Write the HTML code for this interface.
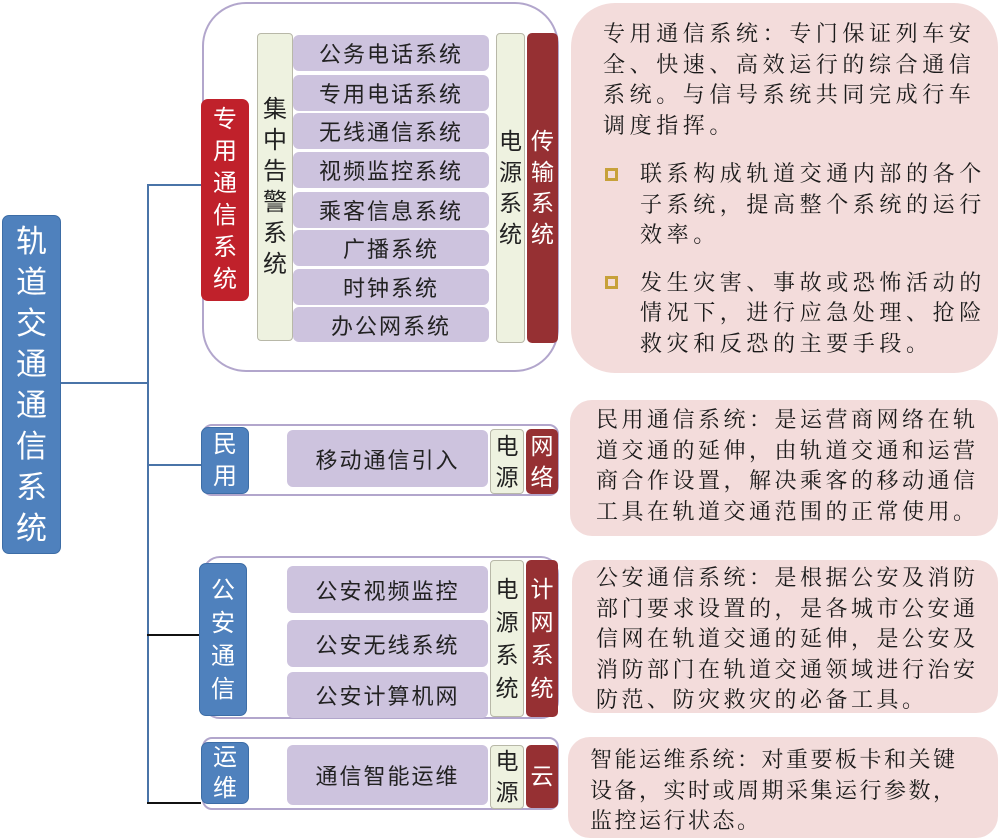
<!DOCTYPE html>
<html><head><meta charset="utf-8"><style>
body{margin:0;width:1000px;height:840px;background:#fff;position:relative;overflow:hidden;font-family:"Liberation Sans","Noto Sans CJK SC",sans-serif}
.a{position:absolute;box-sizing:border-box}
.v{display:flex;flex-direction:column;align-items:center;justify-content:center;text-align:center}
.blue{background:#4f81bd;color:#fff;border-radius:7px;border:1px solid #3d6da6}
.red{background:#c0212b;color:#fff;border-radius:7px}
.dred{background:#963033;color:#fff;border-radius:5px}
.grn{background:#eef2e0;border:1px solid #b8b8a8;border-radius:4px;color:#222}
.itm{background:#cdc3de;border-radius:6px;color:#222;font-size:22px;letter-spacing:2px;display:flex;align-items:center;justify-content:center}
.out{border:2px solid #b2a6cc;background:#fff}
.pk{background:#f3dcdb;border-radius:22px;font-family:"Liberation Serif","Noto Serif CJK SC",serif;font-size:22px;letter-spacing:4.6px;line-height:30.5px;color:#1a1a1a;white-space:nowrap}
.ln{position:absolute;background:#4a74a8}
.bk{position:absolute;background:#111}
.bul{position:absolute;width:13px;height:13px;border:3px solid #c7a13a;box-sizing:border-box}
</style></head><body>
<div class="ln" style="left:60px;top:382px;width:89px;height:2px"></div>
<div class="ln" style="left:147px;top:184px;width:2px;height:620px"></div>
<div class="ln" style="left:147px;top:184px;width:54px;height:2px"></div>
<div class="ln" style="left:147px;top:464px;width:54px;height:2px"></div>
<div class="bk" style="left:147px;top:634px;width:54px;height:2px"></div>
<div class="bk" style="left:147px;top:802px;width:54px;height:2px"></div>

<div class="a blue v" style="left:2px;top:215px;width:59px;height:339px;font-size:31px;line-height:41px">轨<br>道<br>交<br>通<br>通<br>信<br>系<br>统</div>

<div class="a out" style="left:202px;top:2px;width:357px;height:370px;border-radius:44px"></div>
<div class="a red v" style="left:201px;top:99px;width:48px;height:202px;font-size:24px;line-height:32px">专<br>用<br>通<br>信<br>系<br>统</div>
<div class="a grn v" style="left:257px;top:33px;width:36px;height:308px;font-size:24px;line-height:31px">集<br>中<br>告<br>警<br>系<br>统</div>
<div class="a itm" style="left:293px;top:35px;width:196px;height:36px">公务电话系统</div>
<div class="a itm" style="left:293px;top:75px;width:196px;height:36px">专用电话系统</div>
<div class="a itm" style="left:293px;top:113px;width:196px;height:36px">无线通信系统</div>
<div class="a itm" style="left:293px;top:152px;width:196px;height:36px">视频监控系统</div>
<div class="a itm" style="left:293px;top:192px;width:196px;height:36px">乘客信息系统</div>
<div class="a itm" style="left:293px;top:230px;width:196px;height:36px">广播系统</div>
<div class="a itm" style="left:293px;top:269px;width:196px;height:36px">时钟系统</div>
<div class="a itm" style="left:293px;top:307px;width:196px;height:35px">办公网系统</div>
<div class="a grn v" style="left:496px;top:33px;width:29px;height:310px;font-size:23px;line-height:31px">电<br>源<br>系<br>统</div>
<div class="a dred v" style="left:527px;top:33px;width:31px;height:310px;font-size:23px;line-height:31px">传<br>输<br>系<br>统</div>

<div class="a out" style="left:202px;top:424px;width:357px;height:72px;border-radius:10px"></div>
<div class="a blue v" style="left:201px;top:427px;width:48px;height:67px;font-size:24px;line-height:32px">民<br>用</div>
<div class="a itm" style="left:287px;top:430px;width:201px;height:57px">移动通信引入</div>
<div class="a grn v" style="left:490px;top:429px;width:34px;height:65px;font-size:23px;line-height:31px">电<br>源</div>
<div class="a dred v" style="left:526px;top:429px;width:32px;height:65px;font-size:23px;line-height:31px">网<br>络</div>

<div class="a out" style="left:202px;top:556px;width:357px;height:163px;border-radius:18px"></div>
<div class="a blue v" style="left:199px;top:563px;width:48px;height:153px;font-size:24px;line-height:33px">公<br>安<br>通<br>信</div>
<div class="a itm" style="left:287px;top:566px;width:201px;height:47px">公安视频监控</div>
<div class="a itm" style="left:287px;top:620px;width:201px;height:47px">公安无线系统</div>
<div class="a itm" style="left:287px;top:672px;width:201px;height:46px">公安计算机网</div>
<div class="a grn v" style="left:490px;top:560px;width:34px;height:157px;font-size:23px;line-height:33px">电<br>源<br>系<br>统</div>
<div class="a dred v" style="left:526px;top:560px;width:32px;height:157px;font-size:23px;line-height:33px">计<br>网<br>系<br>统</div>

<div class="a out" style="left:202px;top:737px;width:357px;height:73px;border-radius:10px"></div>
<div class="a blue v" style="left:201px;top:742px;width:48px;height:62px;font-size:24px;line-height:31px">运<br>维</div>
<div class="a itm" style="left:287px;top:745px;width:201px;height:60px">通信智能运维</div>
<div class="a grn v" style="left:490px;top:745px;width:34px;height:64px;font-size:23px;line-height:31px">电<br>源</div>
<div class="a dred v" style="left:526px;top:745px;width:32px;height:63px;font-size:23px;line-height:31px">云</div>

<div class="a pk" style="left:571px;top:3px;width:427px;height:370px;border-radius:44px;padding:16px 0 0 32px">
专用通信系统：专门保证列车安<br>全、快速、高效运行的综合通信<br>系统。与信号系统共同完成行车<br>调度指挥。
<div style="margin-top:18px;padding-left:37px">联系构成轨道交通内部的各个<br>子系统，提高整个系统的运行<br>效率。</div>
<div style="margin-top:17px;padding-left:37px">发生灾害、事故或恐怖活动的<br>情况下，进行应急处理、抢险<br>救灾和反恐的主要手段。</div>
</div>
<div class="bul" style="left:605px;top:168px"></div>
<div class="bul" style="left:605px;top:276px"></div>

<div class="a pk" style="left:570px;top:400px;width:428px;height:136px;padding:5px 0 0 26px;letter-spacing:3.5px">民用通信系统：是运营商网络在轨<br>道交通的延伸，由轨道交通和运营<br>商合作设置，解决乘客的移动通信<br>工具在轨道交通范围的正常使用。</div>

<div class="a pk" style="left:572px;top:560px;width:426px;height:153px;padding:3px 0 0 24px;letter-spacing:3.5px">公安通信系统：是根据公安及消防<br>部门要求设置的，是各城市公安通<br>信网在轨道交通的延伸，是公安及<br>消防部门在轨道交通领域进行治安<br>防范、防灾救灾的必备工具。</div>

<div class="a pk" style="left:568px;top:737px;width:430px;height:101px;padding:8px 0 0 22px;letter-spacing:2.5px">智能运维系统：对重要板卡和关键<br>设备，实时或周期采集运行参数，<br>监控运行状态。</div>
</body></html>
